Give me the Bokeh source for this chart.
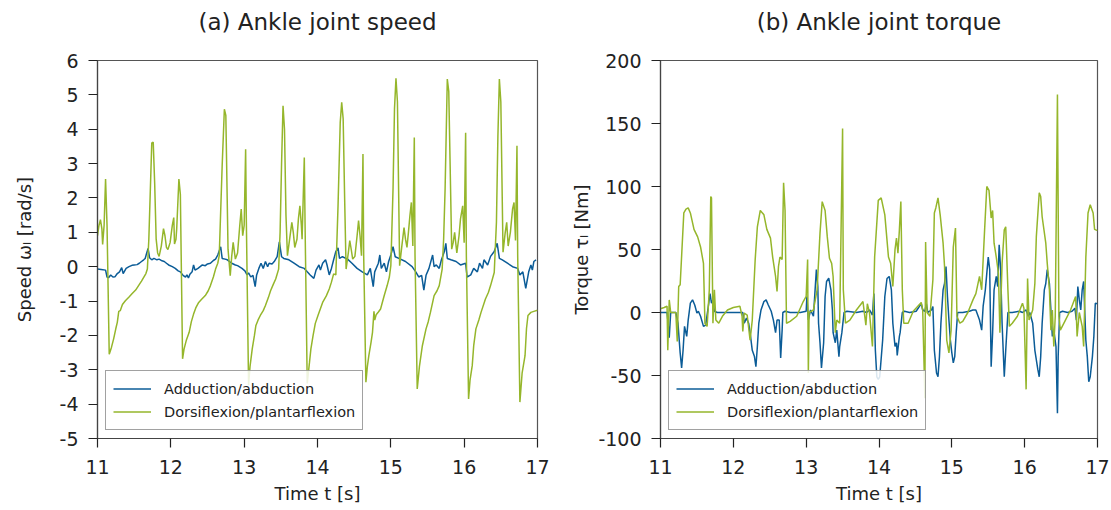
from bokeh.plotting import figure
from bokeh.models import Legend, LegendItem, FixedTicker, Range1d, LinearAxis
from bokeh.layouts import row
from bokeh.embed import file_html
from bokeh.resources import INLINE

FONT = "DejaVu Sans"
BLUE = "#0b5c97"
GREEN = "#95b62b"

x_ticks = [11, 12, 13, 14, 15, 16, 17]
speed_ticks = [-5, -4, -3, -2, -1, 0, 1, 2, 3, 4, 5, 6]
torque_ticks = [-100, -50, 0, 50, 100, 150, 200]
series_names = ["Adduction/abduction", "Dorsiflexion/plantarflexion"]

# (time [s], speed [rad/s]) - adduction/abduction
speed_add = [
    (11.00, -0.07), (11.05, -0.08), (11.11, -0.1), (11.13, -0.3), (11.15, -0.32), (11.18, -0.24),
    (11.21, -0.3), (11.24, -0.29), (11.27, -0.2), (11.30, -0.15), (11.33, -0.03), (11.35, -0.2),
    (11.39, -0.05), (11.43, 0.0), (11.47, 0.04), (11.50, 0.05), (11.54, 0.06), (11.57, 0.1),
    (11.60, 0.15), (11.63, 0.2), (11.65, 0.24), (11.67, 0.39), (11.69, 0.53), (11.71, 0.26),
    (11.74, 0.2), (11.77, 0.24), (11.81, 0.2), (11.84, 0.22), (11.88, 0.17), (11.91, 0.15),
    (11.94, 0.1), (11.97, 0.05), (12.02, 0.0), (12.06, -0.05), (12.10, -0.12), (12.13, -0.15),
    (12.17, -0.26), (12.20, -0.3), (12.22, -0.24), (12.24, -0.33), (12.26, -0.22), (12.29, -0.15),
    (12.31, 0.05), (12.33, -0.1), (12.37, -0.05), (12.43, 0.05), (12.47, 0.03), (12.50, 0.08),
    (12.54, 0.1), (12.58, 0.18), (12.61, 0.22), (12.64, 0.34), (12.68, 0.58), (12.70, 0.24),
    (12.74, 0.22), (12.77, 0.2), (12.83, 0.1), (12.88, 0.05), (12.91, 0.03), (12.97, -0.05),
    (13.01, -0.12), (13.04, -0.24), (13.06, -0.18), (13.09, -0.3), (13.12, -0.25), (13.15, -0.58),
    (13.17, -0.24), (13.20, -0.05), (13.23, 0.1), (13.26, -0.05), (13.29, 0.15), (13.32, 0.0),
    (13.34, 0.1), (13.38, 0.08), (13.41, 0.15), (13.45, 0.29), (13.48, 0.72), (13.51, 0.29),
    (13.54, 0.24), (13.61, 0.2), (13.68, 0.1), (13.75, 0.0), (13.82, -0.05), (13.86, -0.15),
    (13.90, -0.24), (13.95, -0.34), (13.98, -0.1), (14.02, 0.05), (14.04, -0.1), (14.07, 0.1),
    (14.11, 0.2), (14.13, 0.05), (14.16, -0.24), (14.19, -0.05), (14.22, 0.2), (14.25, 0.44),
    (14.28, 0.55), (14.30, 0.24), (14.34, 0.29), (14.41, 0.22), (14.47, 0.1), (14.54, -0.05),
    (14.61, -0.15), (14.68, -0.24), (14.72, -0.05), (14.76, -0.58), (14.78, -0.15), (14.83, 0.1),
    (14.85, 0.34), (14.87, -0.05), (14.91, 0.1), (14.94, -0.15), (14.97, 0.15), (15.00, 0.34),
    (15.03, 0.58), (15.06, 0.29), (15.11, 0.24), (15.20, 0.15), (15.29, 0.0), (15.34, -0.15),
    (15.38, -0.3), (15.42, -0.25), (15.45, -0.68), (15.48, -0.25), (15.52, -0.05), (15.57, 0.34),
    (15.59, 0.0), (15.62, 0.05), (15.66, -0.05), (15.69, 0.2), (15.73, 0.44), (15.75, 0.68),
    (15.77, 0.24), (15.82, 0.2), (15.89, 0.15), (15.95, 0.05), (16.02, 0.1), (16.04, -0.3),
    (16.09, -0.24), (16.13, -0.05), (16.18, -0.15), (16.21, 0.1), (16.25, -0.05), (16.27, 0.2),
    (16.32, 0.05), (16.36, 0.3), (16.41, 0.44), (16.45, 0.68), (16.48, 0.24), (16.52, 0.2),
    (16.59, 0.1), (16.66, 0.0), (16.73, -0.05), (16.76, -0.24), (16.80, -0.15), (16.84, -0.63),
    (16.88, -0.15), (16.91, 0.05), (16.93, -0.1), (16.95, 0.15), (16.98, 0.2),
]

# (time [s], speed [rad/s]) - dorsiflexion/plantarflexion
speed_dorsi = [
    (11.00, 0.9), (11.02, 1.2), (11.04, 1.37), (11.06, 1.1), (11.07, 0.65), (11.09, 1.2),
    (11.11, 2.55), (11.13, 1.2), (11.16, -2.55), (11.19, -2.35), (11.22, -2.1), (11.25, -1.8),
    (11.27, -1.62), (11.29, -1.3), (11.31, -1.28), (11.34, -1.1), (11.38, -0.99), (11.43, -0.88),
    (11.47, -0.79), (11.52, -0.68), (11.56, -0.55), (11.60, -0.42), (11.63, -0.31), (11.66, -0.2),
    (11.68, -0.07), (11.70, 0.8), (11.72, 2.2), (11.74, 3.6), (11.76, 3.62), (11.78, 2.4),
    (11.80, 0.8), (11.82, 0.4), (11.84, 0.3), (11.87, 0.6), (11.90, 1.11), (11.92, 0.9),
    (11.94, 0.56), (11.96, 0.5), (11.99, 0.7), (12.02, 1.2), (12.04, 1.43), (12.05, 0.66),
    (12.07, 0.8), (12.08, 1.1), (12.11, 2.55), (12.13, 2.1), (12.16, -2.68), (12.18, -2.4),
    (12.21, -2.15), (12.25, -1.91), (12.28, -1.6), (12.31, -1.38), (12.34, -1.2), (12.38, -1.04),
    (12.42, -0.95), (12.47, -0.84), (12.51, -0.7), (12.54, -0.55), (12.58, -0.3), (12.61, -0.07),
    (12.64, 0.1), (12.66, 0.32), (12.70, 2.94), (12.73, 4.58), (12.75, 4.4), (12.78, 0.51),
    (12.81, -0.26), (12.83, 0.3), (12.85, 0.71), (12.88, 0.22), (12.91, 0.4), (12.94, 1.2),
    (12.96, 1.68), (12.98, 0.9), (13.00, 1.2), (13.02, 3.42), (13.03, 1.3), (13.06, -3.45),
    (13.08, -2.9), (13.11, -2.39), (13.14, -2.0), (13.16, -1.71), (13.19, -1.55), (13.22, -1.42),
    (13.26, -1.28), (13.29, -1.13), (13.33, -0.9), (13.36, -0.7), (13.40, -0.5), (13.43, -0.36),
    (13.47, -0.07), (13.49, 1.0), (13.51, 3.0), (13.53, 4.68), (13.55, 4.0), (13.57, 1.5),
    (13.59, 0.32), (13.62, 0.8), (13.65, 1.29), (13.67, 1.0), (13.69, 0.56), (13.72, 0.8),
    (13.74, 1.4), (13.76, 1.77), (13.78, 1.2), (13.79, 0.8), (13.82, 3.18), (13.83, 1.3),
    (13.86, -3.4), (13.89, -2.8), (13.91, -2.39), (13.94, -2.0), (13.97, -1.65), (14.01, -1.4),
    (14.07, -1.04), (14.12, -0.85), (14.16, -0.65), (14.19, -0.45), (14.22, -0.21), (14.25, -0.24),
    (14.28, 1.77), (14.31, 4.2), (14.33, 4.78), (14.35, 4.3), (14.37, 2.0), (14.39, -0.07),
    (14.42, 0.4), (14.44, 0.76), (14.46, 0.5), (14.48, 0.22), (14.51, 0.3), (14.54, 0.9),
    (14.56, 1.34), (14.58, 0.9), (14.60, 0.32), (14.62, 3.28), (14.63, 0.3), (14.66, -3.36),
    (14.68, -2.9), (14.70, -2.59), (14.73, -2.2), (14.75, -1.91), (14.77, -1.3), (14.78, -1.55),
    (14.80, -1.4), (14.83, -1.32), (14.86, -1.23), (14.91, -0.84), (14.95, -0.55), (14.98, -0.3),
    (15.00, 0.03), (15.03, 2.26), (15.05, 4.6), (15.07, 5.48), (15.09, 4.8), (15.12, 0.03),
    (15.15, 0.6), (15.18, 1.14), (15.20, 0.8), (15.22, 0.56), (15.24, 1.0), (15.26, 1.48),
    (15.28, 1.87), (15.30, 0.6), (15.32, 3.76), (15.33, 0.3), (15.36, -3.56), (15.39, -2.9),
    (15.43, -2.3), (15.48, -1.81), (15.51, -1.6), (15.54, -1.33), (15.59, -0.84), (15.63, -0.7),
    (15.66, -0.55), (15.70, -0.07), (15.72, 0.8), (15.74, 2.26), (15.77, 5.46), (15.79, 5.1),
    (15.83, 0.51), (15.85, 0.7), (15.87, 1.0), (15.90, 0.4), (15.93, 0.9), (15.95, 1.39),
    (15.98, 1.77), (16.00, 0.7), (16.02, 3.9), (16.03, 0.3), (16.06, -3.85), (16.08, -3.3),
    (16.11, -2.88), (16.13, -2.3), (16.16, -1.81), (16.20, -1.55), (16.23, -1.33), (16.29, -0.94),
    (16.33, -0.75), (16.36, -0.55), (16.41, -0.17), (16.44, 1.29), (16.46, 3.8), (16.48, 5.46),
    (16.50, 4.8), (16.53, 0.42), (16.56, 1.0), (16.58, 1.29), (16.60, 0.6), (16.63, 1.0),
    (16.66, 1.68), (16.68, 1.87), (16.70, 0.76), (16.72, 3.52), (16.73, 0.3), (16.76, -3.94),
    (16.79, -3.1), (16.83, -2.59), (16.85, -1.8), (16.87, -1.42), (16.91, -1.33), (16.95, -1.3),
    (17.00, -1.27),
]

# (time [s], torque [Nm]) - adduction/abduction
torque_add = [
    (11.00, 0), (11.09, 0), (11.10, -6), (11.12, -20), (11.14, 0), (11.21, 0), (11.24, -8.5),
    (11.27, -32), (11.29, -44), (11.31, -30), (11.33, -11), (11.36, -19), (11.38, -6), (11.41, 7.4),
    (11.44, 10), (11.47, 6), (11.50, -0.5), (11.52, 1), (11.55, -3), (11.59, -11), (11.62, -10),
    (11.65, 2), (11.68, 15), (11.70, 7.4), (11.72, 10), (11.74, 1), (11.78, 0), (11.87, 0),
    (12.05, 0), (12.13, 0), (12.15, -8.5), (12.18, -4.5), (12.21, -8.5), (12.23, -16), (12.26, -30),
    (12.29, -35), (12.31, -43), (12.33, -27), (12.35, -8.5), (12.38, 2), (12.42, 8.7), (12.45, 10),
    (12.48, 6), (12.52, 1), (12.55, -6), (12.58, -16), (12.60, -6), (12.63, -6), (12.65, -36),
    (12.67, -14), (12.68, 0), (12.71, 1), (12.78, 0), (12.92, 0), (13.00, 1), (13.01, 12.7),
    (13.03, -6), (13.06, 2), (13.10, -3), (13.14, 34), (13.16, 20.6), (13.17, -8.5), (13.19, -24),
    (13.21, -44), (13.24, -24), (13.26, 12.7), (13.28, 24.6), (13.31, 27.2), (13.34, 18), (13.36, 2),
    (13.37, -16), (13.40, -24), (13.42, -14), (13.45, -35), (13.46, -27), (13.49, -16), (13.52, 0),
    (13.56, 1), (13.69, 0), (13.78, 1), (13.83, 0), (13.87, 2), (13.91, -2), (13.93, 15),
    (13.95, -30), (13.97, -51), (13.99, -53), (14.01, -51), (14.05, -22), (14.08, 12.7), (14.11, 27),
    (14.14, 28.6), (14.17, 18), (14.19, -8.5), (14.22, -27), (14.24, -24), (14.25, -34), (14.28, -19),
    (14.29, -16), (14.32, 0), (14.35, 1), (14.42, 0), (14.51, 1), (14.58, 7), (14.60, 2), (14.63, 1),
    (14.65, 7), (14.67, 0), (14.72, 2), (14.74, 4.8), (14.76, -30), (14.79, -48), (14.81, -51),
    (14.83, -35), (14.85, -8.5), (14.88, 18), (14.90, 23), (14.92, 36.5), (14.94, 12.7), (14.96, -6),
    (14.98, -22), (15.00, -32), (15.02, -40), (15.04, -35), (15.06, -16), (15.08, 0), (15.15, 0),
    (15.24, 1), (15.29, 2), (15.33, 2), (15.38, -6), (15.41, -14), (15.43, 5), (15.46, 18),
    (15.48, 31), (15.50, 44), (15.52, 34), (15.54, -43), (15.56, -16), (15.58, 18), (15.61, 28.6),
    (15.63, 20.6), (15.65, 53.7), (15.67, 34), (15.69, -8.5), (15.72, -51), (15.74, -30), (15.77, 0),
    (15.83, 0), (15.93, 1), (15.97, 0), (16.02, 2), (16.05, -3), (16.07, 0), (16.11, -8.5),
    (16.14, -30), (16.18, -45), (16.20, -51), (16.22, -35), (16.24, -8.5), (16.27, 18), (16.29, 23),
    (16.31, 34), (16.34, 23), (16.36, 2), (16.38, -19), (16.40, -14), (16.43, -27), (16.45, -80),
    (16.46, -35), (16.48, 0), (16.52, 1), (16.59, 0), (16.65, 1), (16.69, 3.4), (16.71, -6),
    (16.73, 20.6), (16.75, 10), (16.77, 2), (16.79, 18), (16.81, 24.6), (16.84, -22), (16.86, -35),
    (16.88, -55), (16.90, -51), (16.93, -35), (16.95, -19), (16.97, 7.4), (17.00, 7),
]

# (time [s], torque [Nm]) - dorsiflexion/plantarflexion
torque_dorsi = [
    (11.00, 3), (11.05, 4), (11.09, 5), (11.10, -30), (11.12, 10), (11.14, 0), (11.21, 0),
    (11.23, -23), (11.25, 20.6), (11.27, 22), (11.32, 79), (11.35, 82), (11.38, 83), (11.41, 79),
    (11.46, 66), (11.51, 60), (11.55, 52), (11.59, 39), (11.61, -8.5), (11.64, -11), (11.67, 18),
    (11.69, 92), (11.70, 91), (11.72, -8.5), (11.74, 18), (11.76, -6), (11.80, -8.5), (11.85, -3),
    (11.92, 2), (12.00, 4), (12.09, 5), (12.12, -3), (12.13, -15), (12.15, -0.5), (12.19, -2),
    (12.23, -22), (12.26, -6), (12.30, 42), (12.33, 68), (12.37, 81), (12.42, 77.5), (12.46, 66),
    (12.51, 59), (12.54, 44), (12.58, 28.6), (12.60, 16.7), (12.62, 36.5), (12.64, 44), (12.67, 42),
    (12.69, 103), (12.71, 81), (12.73, -8.5), (12.78, -7), (12.87, -3), (12.96, 8.7), (13.00, 12.7),
    (13.02, 42), (13.03, -48), (13.04, 0), (13.10, 2), (13.15, 18), (13.19, 63), (13.22, 88),
    (13.26, 81), (13.29, 60), (13.32, 43), (13.35, 39), (13.37, 28.6), (13.40, -16), (13.42, -6),
    (13.46, -8.5), (13.50, 146), (13.51, 18), (13.54, -8.5), (13.60, -6), (13.69, 2), (13.78, 8.7),
    (13.82, -10), (13.84, 7), (13.87, -0.5), (13.91, -27), (13.94, 44), (13.99, 89), (14.03, 91),
    (14.08, 77.5), (14.13, 44), (14.16, 39), (14.19, 20.6), (14.22, 50), (14.24, 59), (14.26, 47),
    (14.28, 65.6), (14.30, 88), (14.32, 18), (14.34, -8.5), (14.40, -8.5), (14.47, 1), (14.58, 8),
    (14.60, 2), (14.63, -68), (14.64, 56), (14.66, 0), (14.70, -3), (14.74, 26), (14.76, 79),
    (14.78, 83), (14.81, 91), (14.84, 77.5), (14.88, 55), (14.90, 36.5), (14.93, -22), (14.96, -32),
    (14.99, -14), (15.02, 52), (15.05, 67), (15.07, -3), (15.11, -8.5), (15.15, -7), (15.22, 0),
    (15.29, 10), (15.33, 15), (15.38, 28.6), (15.41, 18), (15.45, 65.6), (15.48, 100), (15.51, 97),
    (15.54, 75), (15.56, 81), (15.58, 55), (15.61, 44), (15.64, 31), (15.66, -16), (15.69, 39),
    (15.72, 65.6), (15.74, 68), (15.77, 18), (15.79, -11), (15.83, -8.5), (15.90, -3), (15.97, 7.4),
    (15.99, 3.4), (16.02, -61), (16.04, 27), (16.06, -6), (16.08, -3), (16.11, 2), (16.14, 23),
    (16.16, 60), (16.20, 95), (16.22, 92), (16.24, 76), (16.29, 55), (16.31, 39), (16.34, 18),
    (16.36, -14), (16.38, 2), (16.40, -27), (16.42, -3), (16.45, 173), (16.47, -3), (16.49, -14),
    (16.56, -6), (16.63, 2), (16.70, 12.7), (16.72, -19), (16.75, 0), (16.79, -11), (16.81, -27),
    (16.84, 44), (16.87, 79), (16.90, 85.5), (16.94, 79), (16.96, 66), (17.00, 65),
]


def make_panel(width, b_left, b_right, y_rng, y_ticks, ylabel, ylabel_standoff, title, series):
    p = figure(width=width, height=508, x_range=Range1d(11, 17), y_range=Range1d(*y_rng),
               output_backend="svg", toolbar_location=None,
               min_border_left=b_left, min_border_right=b_right,
               min_border_top=60, min_border_bottom=70)
    p.grid.visible = False
    p.outline_line_color = "#555555"
    p.outline_line_width = 1.2
    p.background_fill_color = "white"
    p.border_fill_color = "white"

    xa = p.below[0]
    ya = p.left[0]
    xa.ticker = FixedTicker(ticks=x_ticks)
    ya.ticker = FixedTicker(ticks=y_ticks)
    xa.major_label_overrides = {t: str(t) for t in x_ticks}
    ya.major_label_overrides = {t: str(t) for t in y_ticks}
    for ax in (xa, ya):
        ax.axis_line_color = "#444444"
        ax.axis_line_width = 1.2
        ax.major_tick_line_color = "#222222"
        ax.major_tick_line_width = 1.2
        ax.major_tick_in = 0
        ax.major_tick_out = 9
        ax.minor_tick_line_color = None
        ax.major_label_text_font = FONT
        ax.major_label_text_font_size = "19px"
        ax.major_label_text_color = "#222222"
        ax.axis_label_text_font = FONT
        ax.axis_label_text_font_size = "18px"
        ax.axis_label_text_font_style = "normal"
        ax.axis_label_text_color = "#222222"
    ya.major_label_standoff = 10
    xa.major_label_standoff = 12
    xa.axis_label = "Time t [s]"
    xa.axis_label_standoff = 6
    ya.axis_label = ylabel
    ya.axis_label_standoff = ylabel_standoff

    # panel title, centred above the frame (an empty axis carrying only a label)
    top_axis = LinearAxis(ticker=FixedTicker(ticks=[]), axis_label=title,
                          axis_line_color=None, major_tick_line_color=None,
                          minor_tick_line_color=None, major_tick_out=0, major_tick_in=0,
                          major_label_standoff=0, axis_label_standoff=26,
                          axis_label_text_font=FONT, axis_label_text_font_size="23px",
                          axis_label_text_font_style="normal", axis_label_text_color="#222222")
    p.add_layout(top_axis, "above")

    renderers = []
    for data, color in series:
        ts = [d[0] for d in data]
        vs = [d[1] for d in data]
        r = p.line(ts, vs, line_color=color, line_width=1.5)
        renderers.append(r)

    legend = Legend(items=[LegendItem(label=series_names[i], renderers=[renderers[i]]) for i in range(2)],
                    location=(8, 8))
    legend.label_text_font = FONT
    legend.label_text_font_size = "14.5px"
    legend.label_text_color = "#222222"
    legend.glyph_width = 38
    legend.glyph_height = 21
    legend.label_height = 21
    legend.label_standoff = 13
    legend.padding = 7
    legend.spacing = 2
    legend.margin = 0
    legend.border_line_color = "#444444"
    legend.border_line_width = 1.2
    legend.background_fill_alpha = 0.85
    p.add_layout(legend)
    return p


p1 = make_panel(568, 97, 31, (-5, 6), speed_ticks, "Speed \u03c9\u2097 [rad/s]", 22,
                "(a) Ankle joint speed", [(speed_add, BLUE), (speed_dorsi, GREEN)])
p2 = make_panel(543, 90, 14, (-100, 200), torque_ticks, "Torque \u03c4\u2097 [Nm]", 3,
                "(b) Ankle joint torque", [(torque_add, BLUE), (torque_dorsi, GREEN)])

layout = row(p1, p2)
open("out.html", "w").write(file_html(layout, INLINE))
